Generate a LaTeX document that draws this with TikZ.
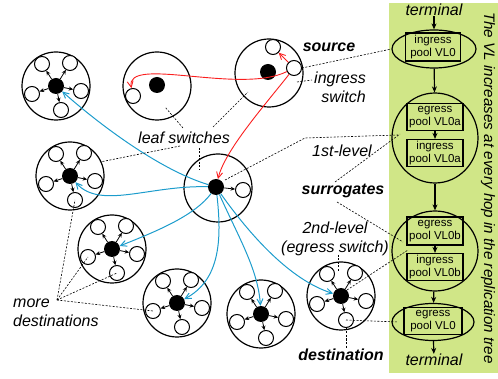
\documentclass[tikz,border=0pt]{standalone}
\usepackage{fontspec}
\setmainfont{Liberation Sans}
\usetikzlibrary{arrows.meta,shapes.geometric}

\definecolor{vlgreen}{RGB}{208,230,135}
\definecolor{treeblue}{RGB}{28,156,204}
\definecolor{pathred}{RGB}{250,30,30}

\tikzset{
  sw/.style={circle,draw,line width=1.2pt,minimum size=68pt,inner sep=0},
  hub/.style={circle,fill=black,minimum size=16pt,inner sep=0},
  port/.style={circle,draw,fill=white,line width=1pt,minimum size=15pt,inner sep=0},
  fan/.style={-{Stealth[length=4.5pt,width=4pt]},line width=0.8pt},
  mcast/.style={treeblue,line width=1pt,-{Straight Barb[length=6pt,width=6pt]}},
  ucast/.style={pathred,line width=0.9pt,-{Straight Barb[length=6pt,width=6pt]}},
  callout/.style={line width=0.6pt,dash pattern=on 2pt off 1.5pt},
  lbl/.style={font=\fontsize{16}{19}\selectfont\itshape,inner sep=0},
  blbl/.style={font=\fontsize{16}{19}\selectfont\bfseries\itshape,inner sep=0},
  vl/.style={ellipse,draw,line width=1.2pt,inner sep=0},
  pool/.style={draw,line width=1.1pt,minimum width=56pt,minimum height=27pt,inner sep=0,
    align=center,font=\fontsize{11.5}{13}\selectfont},
  hop/.style={line width=1.2pt,-{Stealth[length=6pt,width=5pt]}},
  % a destination switch: hub with five host ports around it
  dstsw/.pic={
    \node[sw] (-sw) at (0,0) {};
    \node[hub] (-hub) at (0,0) {};
    \foreach \p/\dx/\dy in {a/-14/-22,b/14/-23,c/25/5,d/5/24,e/-24/8}{
      \node[port] (-\p) at (\dx,\dy) {};
      \draw[fan] (-hub) -- (-\p);
    }
  }
}

\begin{document}
\begin{tikzpicture}[x=1pt,y=-1pt]
\useasboundingbox (0,0) rectangle (498,379);

% VL column
\fill[vlgreen] (389,3) rectangle (498,373);
\node[lbl] (ttop) at (434,10) {terminal};
\node[vl,minimum width=84pt,minimum height=38pt] (e1) at (434,49) {};
\node[pool,minimum width=55pt,minimum height=28pt] (b1) at (433,47) {ingress\\pool VL0};
\node[vl,minimum width=86pt,minimum height=90pt] (e2) at (435,138) {};
\node[pool] (b2a) at (435,117) {egress\\pool VL0a};
\node[pool] (b2b) at (435,153) {ingress\\pool VL0a};
\node[vl,minimum width=86pt,minimum height=80pt] (e3) at (435,251) {};
\node[pool,minimum height=28pt] (b3a) at (435,231) {egress\\pool VL0b};
\node[pool] (b3b) at (435,267) {ingress\\pool VL0b};
\node[vl,minimum width=82pt,minimum height=37pt] (e4) at (433,322) {};
\node[pool,minimum width=58pt] (b4) at (433,321) {egress\\pool VL0};
\node[lbl] (tbot) at (434,360) {terminal};
\node[lbl,font=\fontsize{15.2}{18}\selectfont\itshape,rotate=-90] (vltxt) at (488,188)
  {The VL increases at every hop in the replication tree};

\draw[hop] (ttop) -- (e1);
\draw[hop] (e1) -- (e2);
\draw[hop] (b2a) -- (b2b);
\draw[hop] (e2) -- (e3);
\draw[hop] (b3a) -- (b3b);
\draw[hop] (e3) -- (e4);
\draw[hop] (e4) -- (tbot);

% leaf, source and surrogate switches
\node[sw] (leaf) at (157,86) {};
\node[hub] (leaf-hub) at (157,85) {};
\node[port] (leaf-p) at (133,96) {};

\node[sw] (src) at (269,73) {};
\node[hub] (src-hub) at (268,72) {};
\node[port] (src-top) at (273,47) {};
\node[port] (src-in) at (294,68) {};

\node[sw] (c) at (218,188) {};
\node[hub] (c-hub) at (216,187) {};
\node[port] (c-out) at (243,190) {};
\draw[fan] (c-hub) -- (c-out);

% destination switches
\pic (d1) at (56,86) {dstsw};
\pic (d5) at (70,176) {dstsw};
\pic (d6) at (112,249) {dstsw};
\pic (d7) at (177,303) {dstsw};
\pic (d8) at (261,314) {dstsw};
\pic (d9) at (341,296) {dstsw};

% unicast legs
\draw[ucast] (src-in) -- (src-top);
\draw[ucast] (src-in) .. controls (240,95) and (125,55) .. (leaf-p);
\draw[ucast] (src-in) .. controls (265,105) and (225,150) .. (c-hub);

% replication tree
\draw[mcast] (c-hub) .. controls (160,170) and (100,125) .. (d1-hub);
\draw[mcast] (c-hub) .. controls (150,185) and (100,210) .. (d5-hub);
\draw[mcast] (c-hub) .. controls (195,215) and (160,230) .. (d6-hub);
\draw[mcast] (c-hub) .. controls (222,240) and (220,280) .. (d7-hub);
\draw[mcast] (c-hub) .. controls (240,240) and (258,270) .. (d8-hub);
\draw[mcast] (c-hub) .. controls (250,235) and (290,280) .. (d9-hub);

% labels
\node[lbl] (lblleaf) at (184,138) {leaf switches};
\node[blbl] (lblsrc) at (329,47) {source};
\node[lbl,align=right] (lblingress) at (340,87) {ingress\\switch};
\node[lbl] (lbl1st) at (342,151) {1st-level};
\node[blbl] (lblsurr) at (343,191) {surrogates};
\node[lbl,align=center] (lbl2nd) at (335,239) {2nd-level\\(egress switch)};
\node[blbl] (lbldst) at (341,355) {destination};
\node[lbl,align=left,anchor=west] (lblmore) at (13,313) {more\\destinations};
\coordinate (more) at (57,300);

% call-outs
\draw[callout] ([shift={(-1,-10)}]lblleaf.center) -- ([shift={(8,21)}]leaf.center);
\draw[callout] ([shift={(29,-11)}]lblleaf.center) -- ([shift={(-21,19)}]src.center);
\draw[callout] ([shift={(-4,8)}]lblleaf.center) -- ([shift={(30,-14)}]d5-sw.center);
\draw[callout] ([shift={(15,10)}]lblleaf.center) -- ([shift={(-19,-18)}]c.center);
\draw[callout] (src-in.east) -- (e1.west);
\draw[callout] ([shift={(28,9)}]src.center) -- ([shift={(-28,-7)}]lblingress.center);
\draw[callout] ([shift={(9,-7)}]c-hub.center) -- ([shift={(-37,-13)}]lbl1st.center)
  -- ([shift={(-37,-3)}]e2.center);
\draw[callout] ([shift={(-8,-9)}]lblsurr.center) -- ([shift={(-35,-4)}]e2.center);
\draw[callout] ([shift={(-6,11)}]lblsurr.center) -- ([shift={(-32,-9)}]e3.center);
\draw[callout] ([shift={(3,16)}]lbl2nd.center) -- ([shift={(-3,-24)}]d9-sw.center);
\draw[callout] ([shift={(6,-6)}]d9-hub.center) -- ([shift={(-27,-1)}]e3.center);
\draw[callout] (d9-d.south) -- (d9-d.south |- lbldst.north);
\draw[callout] (d9-d.center) -- ([shift={(7,0)}]e4.west);
\foreach \t in {d5-d,d6-e,d6-d,d7-e}
  \draw[callout] (more) -- (\t.center);
\end{tikzpicture}
\end{document}
